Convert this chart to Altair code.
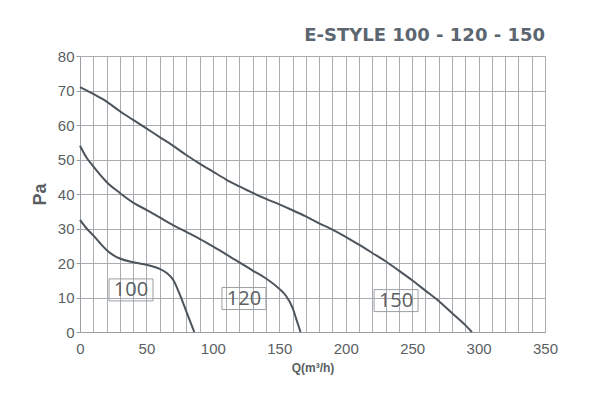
import altair as alt
import pandas as pd

q100 = [0, 5, 10, 15, 20, 25, 30, 40, 50, 55, 60, 65, 70, 75, 80, 86]
p100 = [32.5, 30, 28, 25.8, 23.8, 22.3, 21.3, 20.2, 19.5, 19, 18.3, 17.2, 15.2, 11, 6, 0]

q120 = [0, 5, 10, 20, 30, 40, 50, 60, 70, 80, 90, 100, 110, 120, 130, 140, 150, 155, 160, 163, 166]
p120 = [54, 50.5, 48, 43.5, 40.3, 37.5, 35.4, 33.2, 31, 29, 27, 24.8, 22.5, 20.2, 17.8, 15.5, 12.5, 10.5, 7, 3.5, 0]

q150 = [0, 10, 20, 30, 40, 50, 60, 70, 80, 90, 100, 110, 120, 130, 140, 150, 160, 170, 180, 190,
        200, 210, 220, 230, 240, 250, 260, 270, 280, 290, 295]
p150 = [71, 69, 66.8, 64, 61.5, 59, 56.5, 54, 51.3, 48.8, 46.5, 44.2, 42.2, 40.3, 38.6, 37, 35.3, 33.5, 31.5, 29.7,
        27.6, 25.3, 22.9, 20.5, 17.8, 15, 12, 9, 5.5, 2, 0]

label_text = ["100", "120", "150"]
label_q = [38.4, 123.4, 237.9]
label_p = [12.2, 9.7, 9.1]

x_grid_values = list(range(0, 351, 10))
y_grid_values = list(range(0, 81, 10))

rows = []
for name, qs, ps in [("100", q100, p100), ("120", q120, p120), ("150", q150, p150)]:
    for i, (q, p) in enumerate(zip(qs, ps)):
        rows.append({"model": name, "q": q, "p": p, "order": i})
curves = pd.DataFrame(rows)
labels = pd.DataFrame({"text": label_text, "q": label_q, "p": label_p})

xs = alt.Scale(domain=[0, 350], nice=False)
ys = alt.Scale(domain=[0, 80], nice=False)

grid_color = "#a9adb1"
line_color = "#4c545c"
text_color = "#5a5f63"

xaxis = alt.Axis(values=x_grid_values, grid=True, gridColor=grid_color, gridWidth=1,
                 labelExpr="datum.value % 50 == 0 ? datum.label : ''",
                 domainColor="#9aa0a5", ticks=False, labelOverlap=False, labelFlush=False,
                 labelFont="Liberation Sans", labelFontSize=15, labelColor=text_color, labelPadding=9,
                 title="Q(m³/h)", titleFont="Liberation Sans", titleFontSize=12, titleFontWeight="bold",
                 titleColor=text_color, titlePadding=6)

yaxis = alt.Axis(values=y_grid_values, grid=True, gridColor=grid_color, gridWidth=1,
                 domainColor="#9aa0a5", tickColor="#9aa0a5", tickSize=4, labelOverlap=False,
                 labelFlush=False,
                 labelFont="Liberation Sans", labelFontSize=15, labelColor=text_color, labelPadding=2,
                 title="Pa", titleFont="Liberation Sans", titleFontSize=18, titleFontWeight="bold",
                 titleColor=text_color, titlePadding=8)

X = alt.X("q:Q", scale=xs, axis=xaxis)
Y = alt.Y("p:Q", scale=ys, axis=yaxis)

lines = alt.Chart(curves).mark_line(color=line_color, strokeWidth=2, interpolate="monotone").encode(
    x=X, y=Y, detail="model:N", order="order:Q",
)

boxes = alt.Chart(labels).mark_point(
    shape="M-1,-0.5H1V0.5H-1Z", filled=False, stroke="#9a9fa3", strokeWidth=1, size=1936, opacity=1
).encode(x=X, y=Y)

texts = alt.Chart(labels).mark_text(
    font="Open Sans", fontSize=20, color=text_color, baseline="middle", align="center"
).encode(x=X, y=Y, text="text:N")

chart = alt.layer(lines, boxes, texts).properties(
    width=465, height=276,
    title=alt.TitleParams("E-STYLE 100 - 120 - 150", anchor="end", font="DejaVu Sans", fontSize=18,
                          fontWeight="bold", color="#5b6670", frame="group", offset=4),
    autosize=alt.AutoSizeParams(type="none"),
    padding={"left": 72, "top": 48, "right": 39, "bottom": 58},
).configure_view(stroke=None).configure(background="white")

chart.save("out.html", embed_options={"renderer": "svg", "actions": False})
